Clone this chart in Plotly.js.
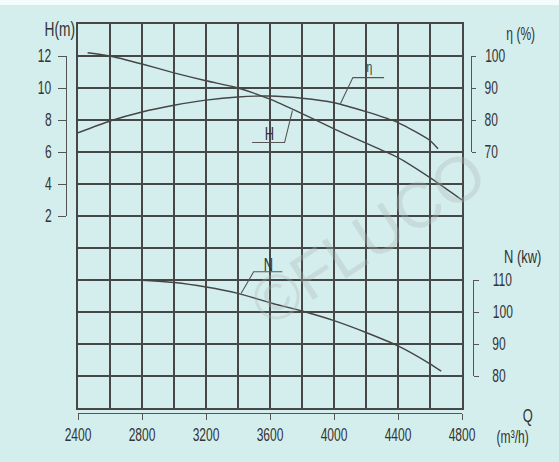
<!DOCTYPE html>
<html>
<head>
<meta charset="utf-8">
<script src="https://cdn.plot.ly/plotly-3.0.1.min.js"></script>
<style>html,body{margin:0;padding:0;background:#d4eeee;}#chart{width:559px;height:462px;}</style>
</head>
<body>
<div id="chart"></div>
<script>
// ---- data ----
const qH   = [2460, 2600, 2800, 3000, 3200, 3400, 3600, 3800, 4000, 4200, 4400, 4600, 4800];
const headH = [12.2, 12.0, 11.5, 10.95, 10.45, 10.0, 9.3, 8.4, 7.45, 6.55, 5.65, 4.4, 3.0];
const qEta = [2400, 2600, 2800, 3000, 3200, 3400, 3600, 3800, 4000, 4200, 4400, 4600, 4650];
const eta  = [76.0, 79.7, 82.5, 84.6, 86.2, 87.2, 87.5, 86.8, 85.4, 82.6, 79.2, 73.6, 71.0];
const qN   = [2480, 2600, 2800, 3000, 3200, 3400, 3600, 3800, 4000, 4200, 4400, 4600, 4670];
const powerN = [110, 110, 109.9, 109.2, 107.8, 105.8, 102.9, 100.3, 97.3, 93.6, 89.4, 83.8, 81.5];
const qTicks = [2400, 2800, 3200, 3600, 4000, 4400, 4800];
const hTicks = [2, 4, 6, 8, 10, 12];
const etaTicks = [70, 80, 90, 100];
const nTicks = [80, 90, 100, 110];

// ---- styling ----
const FONT = 'Liberation Sans Narrow, Arial Narrow, Liberation Sans, Arial, sans-serif';
const BG = '#d4eeee';
const GRID = '#474747';
const CURVE = '#454545';
const AX = '#555555';
const TXT = '#333333';
const WATERMARK = '©FLUCO';

const curveLine = {color: CURVE, width: 1.4, shape: 'spline', smoothing: 0.6};
const traces = [
  {x: qH, y: headH, xaxis: 'x', yaxis: 'y', mode: 'lines', line: curveLine},
  {x: qEta, y: eta, xaxis: 'x', yaxis: 'y3', mode: 'lines', line: curveLine},
  {x: qN, y: powerN, xaxis: 'x', yaxis: 'y5', mode: 'lines', line: curveLine},
  {x: [], y: [], xaxis: 'x2', yaxis: 'y'},
  {x: [], y: [], xaxis: 'x', yaxis: 'y2'},
  {x: [], y: [], xaxis: 'x', yaxis: 'y4'}
];

const L = 40, R = 60, T = 24, B = 46, W = 559, H = 462;
const pw = W - L - R, ph = H - T - B;
const px = v => (v - L) / pw;          // pixel -> paper x
const py = v => (H - B - v) / ph;      // pixel -> paper y

const yDom = [py(408), 1];
const yRange = [-10, 14];
const unit = (yDom[1] - yDom[0]) / (yRange[1] - yRange[0]);
const yAt = h => yDom[0] + (h - yRange[0]) * unit;

const tickFont = {family: FONT, size: 14, color: TXT};
const annFont = (s) => ({family: FONT, size: s, color: TXT});

const layout = {
  width: W, height: H,
  margin: {l: L, r: R, t: T, b: B, pad: 0},
  paper_bgcolor: BG, plot_bgcolor: 'rgba(0,0,0,0)',
  showlegend: false, hovermode: false,
  xaxis: {domain: [px(78), px(462)], range: [2400, 4800], dtick: 200, tick0: 2400,
          showgrid: true, gridcolor: GRID, gridwidth: 2, showticklabels: false, ticks: '',
          showline: true, mirror: true, linecolor: GRID, linewidth: 2, zeroline: false, anchor: 'y'},
  xaxis2: {overlaying: 'x', anchor: 'free', position: py(413), range: [2400, 4800],
           tickvals: qTicks, ticks: 'outside', ticklen: 6, tickcolor: AX, tickwidth: 1,
           showline: true, linecolor: AX, linewidth: 1, showgrid: false, zeroline: false,
           tickfont: tickFont, ticklabelstandoff: 3},
  yaxis: {domain: yDom, range: yRange, dtick: 2, tick0: 0, showgrid: true, gridcolor: GRID, gridwidth: 2,
          showticklabels: false, ticks: '', showline: true, mirror: true, linecolor: GRID, linewidth: 2,
          zeroline: false, anchor: 'x'},
  yaxis2: {domain: [yAt(2), yAt(12)], range: [2, 12], anchor: 'free', position: px(66), side: 'left',
           tickvals: hTicks, ticks: 'outside', ticklen: 8, tickcolor: AX, tickwidth: 1,
           showline: true, linecolor: AX, linewidth: 1, showgrid: false, zeroline: false,
           tickfont: tickFont, ticklabelstandoff: 3},
  yaxis3: {domain: [yAt(6), yAt(12)], range: [70, 100], anchor: 'free', position: px(470.7), side: 'right',
           tickvals: etaTicks, ticks: 'outside', ticklen: 4, tickcolor: AX, tickwidth: 1,
           showline: true, linecolor: AX, linewidth: 1, showgrid: false, zeroline: false,
           tickfont: tickFont, ticklabelstandoff: 5},
  yaxis4: {domain: [yAt(-8), yAt(-2)], range: [80, 110], anchor: 'free', position: px(473.3), side: 'right',
           tickvals: nTicks, ticks: 'outside', ticklen: 5, tickcolor: AX, tickwidth: 1,
           showline: true, linecolor: AX, linewidth: 1, showgrid: false, zeroline: false,
           tickfont: tickFont, ticklabelstandoff: 9},
  // hidden scale for N, aligned with the grid (N=110 at grid -2, N=80 at grid -8)
  yaxis5: {overlaying: 'y', range: [70, 190], visible: false, anchor: 'x'},
  shapes: [
    {type: 'rect', xref: 'paper', yref: 'paper', x0: -0.2, x1: 1.3, y0: py(5), y1: py(-10),
     fillcolor: '#f4fbfb', line: {width: 0}},
    // leader lines for curve labels
    {type: 'path', xref: 'x', yref: 'y', path: 'M3488,6.59 L3691,6.59 L3740,8.59', line: {color: AX, width: 1.1}},
    {type: 'path', xref: 'x', yref: 'y', path: 'M4313,10.65 L4118,10.65 L4040,9.01', line: {color: AX, width: 1.1}},
    {type: 'path', xref: 'x', yref: 'y', path: 'M3677,-1.48 L3498,-1.48 L3419,-2.85', line: {color: AX, width: 1.1}}
  ],
  annotations: [
    {text: WATERMARK, xref: 'paper', yref: 'paper', x: px(368), y: py(238), xanchor: 'center', yanchor: 'middle',
     showarrow: false, textangle: -33,
     font: {family: 'Liberation Sans, Arial, sans-serif', size: 64, color: 'rgba(175,180,180,0.32)'}},
    {text: 'H(m)', xref: 'paper', yref: 'paper', x: px(59.5), y: py(28), xanchor: 'center', yanchor: 'middle',
     showarrow: false, font: annFont(16)},
    {text: 'η (%)', xref: 'paper', yref: 'paper', x: px(520), y: py(34), xanchor: 'center', yanchor: 'middle',
     showarrow: false, font: annFont(14)},
    {text: 'N (kw)', xref: 'paper', yref: 'paper', x: px(522), y: py(255), xanchor: 'center', yanchor: 'middle',
     showarrow: false, font: annFont(15)},
    {text: 'Q', xref: 'paper', yref: 'paper', x: px(528), y: py(414), xanchor: 'center', yanchor: 'middle',
     showarrow: false, font: annFont(15)},
    {text: '(m³/h)', xref: 'paper', yref: 'paper', x: px(512.5), y: py(437), xanchor: 'center', yanchor: 'middle',
     showarrow: false, font: annFont(14)},
    {text: 'H', xref: 'x', yref: 'y', x: 3599, y: 7.22, showarrow: false, font: annFont(15)},
    {text: 'η', xref: 'x', yref: 'y', x: 4222, y: 11.33, showarrow: false, font: annFont(12)},
    {text: 'N', xref: 'x', yref: 'y', x: 3592, y: -0.95, showarrow: false, font: annFont(15)}
  ]
};

// the reference lettering is condensed and tall: stretch each label about its own centre
function condense(gd) {
  gd.querySelectorAll('text').forEach(function (el) {
    if (!el.textContent || el.textContent.indexOf('FLUCO') >= 0) return;
    var bb = el.getBBox();
    var cx = bb.x + bb.width / 2, cy = bb.y + bb.height / 2;
    var prev = el.getAttribute('transform') || '';
    el.setAttribute('transform', prev + ' translate(' + cx + ',' + cy + ') scale(0.86,1.28) translate(' + (-cx) + ',' + (-cy) + ')');
  });
}

Plotly.newPlot('chart', traces, layout, {displayModeBar: false}).then(condense);
</script>
</body>
</html>
